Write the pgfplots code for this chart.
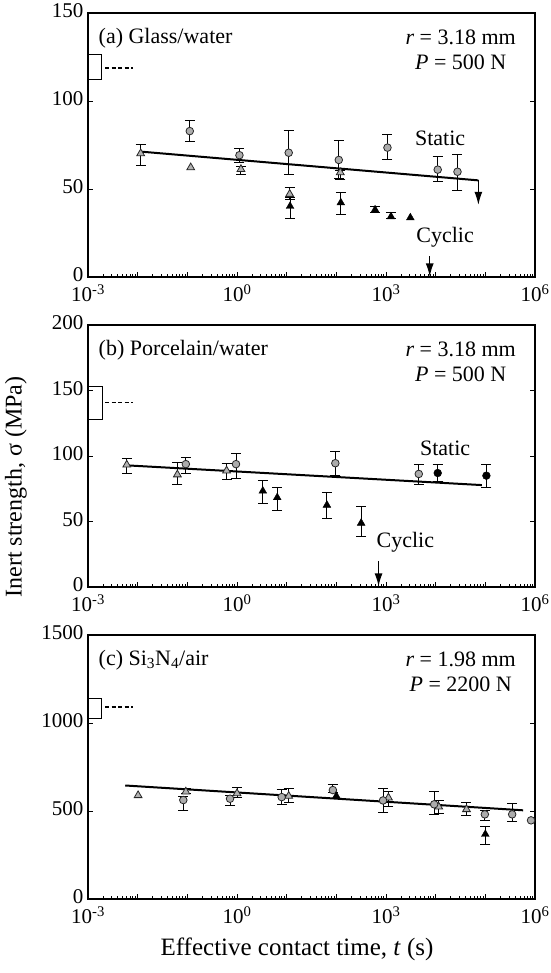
\documentclass[border=0pt]{standalone}
\usepackage{fontspec}
\setmainfont{Liberation Serif}
\usepackage{pgfplots}
\pgfplotsset{compat=1.18}
\usetikzlibrary{arrows.meta}

\pgfplotsset{
  myeb/.style={error bars/.cd, y dir=both, y explicit,
    error bar style={line width=0.9pt, black},
    error mark options={rotate=90, mark size=5pt, line width=0.9pt, black}},
  mygcirc/.style={only marks, mark=*, mark size=3.8pt, mark options={fill=gray!65, draw=black!85, line width=0.8pt}},
  mybcirc/.style={only marks, mark=*, mark size=3.9pt, mark options={fill=black, draw=black}},
  mygtri/.style={only marks, mark=triangle*, mark size=4.5pt, mark options={fill=gray!60, draw=black!85, line width=0.8pt}},
  mybtri/.style={only marks, mark=triangle*, mark size=4.5pt, mark options={fill=black, draw=black}},
  myfit/.style={line width=2pt, black, no marks},
  myarr/.style={line width=1.3pt, black, no marks, -{Latex[length=13pt, width=8pt]}},
  mybox/.style={line width=0.8pt, black, no marks},
  mydash/.style={line width=1.6pt, black, no marks, dash pattern=on 4pt off 2.5pt},
}
\tikzset{mylab/.style={font=\fontsize{22}{25}\selectfont}}

\begin{document}
\begin{tikzpicture}
\useasboundingbox (0,0) rectangle (550pt,-973pt);
\pgfplotsset{every axis/.append style={
    scale only axis, width=447pt, xmin=1e-3, xmax=1e6,
    xtick={1e-3,1e-2,1e-1,1,1e1,1e2,1e3,1e4,1e5,1e6},
    xticklabels={10\textsuperscript{-3},,,10\textsuperscript{0},,,10\textsuperscript{3},,,10\textsuperscript{6}},
    xtick pos=bottom, ytick pos=both, tick align=inside,
    major tick length=5pt,
    tick style={line width=0.9pt, black},
    axis line style={line width=1.3pt},
    tick label style={font=\fontsize{21}{21}\selectfont},
    xticklabel style={yshift=-4pt},
    yticklabel style={yshift=2pt, xshift=-1pt},
    /pgf/number format/assume math mode=true,
    /pgf/number format/1000 sep={},
    scaled y ticks=false,
    clip=false,
}}

% ---------------- (a) ----------------
\begin{axis}[xmode=log, at={(88pt,-13pt)}, anchor=north west, height=264pt,
  ymin=0, ymax=150, ytick={0,50,100,150}]
\addplot[mybox] coordinates {(1e-3,126.5)(0.0019,126.5)(0.0019,112.4)(1e-3,112.4)};
\addplot[mydash] coordinates {(0.0022,118.6)(0.0081,118.6)};
\addplot[myfit] coordinates {(0.012,71.2)(72400,54.9)};
\addplot[myarr] coordinates {(72400,54.9)(72400,41)};
\addplot[myarr] coordinates {(7590,11.8)(7590,0.3)};
\addplot[mygtri, myeb] table[x=x, y=y, y error plus=p, y error minus=m] {
x y p m
0.0115 70.2 5.3 7.1
1.2 61.2 1.6 2.7
11.5 47.1 3.9 3.1
120 59.4 1.4 4.1
};
\addplot[mygtri] coordinates {(0.117,62.2)};
\addplot[mybtri, myeb] table[x=x, y=y, y error plus=p, y error minus=m] {
x y p m
11.7 40.2 4.9 6.9
123 42.2 5.9 6.9
603 38.2 2.0 1.4
1260 34.3 2.2 1.0
};
\addplot[mybtri] coordinates {(3090,33.7)};
\addplot[mygcirc, myeb] table[x=x, y=y, y error plus=p, y error minus=m] {
x y p m
0.112 82.9 5.9 6.0
1.12 69.2 4.1 4.0
11.0 70.6 12.7 12.2
112 66.5 11.3 10.6
1070 73.5 7.5 6.8
11000 61.0 7.6 6.7
27500 59.8 9.6 10.4
};
\node[mylab, anchor=north west] at (rel axis cs:0.016,0.955) {(a) Glass/water};
\node[mylab, anchor=north east, align=center] at (rel axis cs:0.965,0.95) {\textit{r} = 3.18 mm\\\textit{P} = 500 N};
\node[mylab] at (axis cs:12300,78.8) {Static};
\node[mylab] at (axis cs:15500,22.5) {Cyclic};
\end{axis}

% ---------------- (b) ----------------
\begin{axis}[xmode=log, at={(88pt,-325pt)}, anchor=north west, height=262pt,
  ymin=0, ymax=200, ytick={0,50,100,150,200}]
\addplot[mybox] coordinates {(1e-3,152.8)(0.00195,152.8)(0.00195,128.3)(1e-3,128.3)};
\addplot[mydash] coordinates {(0.0022,140.8)(0.0081,140.8)};
\addplot[myfit] coordinates {(0.00646,92.8)(85100,77.8)};
\addplot[myarr] coordinates {(708,19.5)(708,0.5)};
\addplot[mygtri, myeb] table[x=x, y=y, y error plus=p, y error minus=m] {
x y p m
0.00603 93.3 4.9 6.3
0.063 85.8 9.5 7.5
0.617 88.8 5.7 6.8
};
\addplot[mybtri, myeb] table[x=x, y=y, y error plus=p, y error minus=m] {
x y p m
3.31 73.3 8.0 9.5
6.46 68.3 7.5 9.5
64.6 62.5 9.3 10.5
316 48.8 12.7 10.5
};
\addplot[mygcirc, myeb] table[x=x, y=y, y error plus=p, y error minus=m] {
x y p m
0.0933 93.8 5.0 6.8
0.955 93.8 8.2 11.0
95.5 94.5 8.8 9.2
4570 86.3 7.5 8.0
};
\addplot[mybcirc, myeb] table[x=x, y=y, y error plus=p, y error minus=m] {
x y p m
11000 87.0 6.8 6.2
105000 85.0 8.8 9.2
};
\node[mylab, anchor=north west] at (rel axis cs:0.016,0.955) {(b) Porcelain/water};
\node[mylab, anchor=north east, align=center] at (rel axis cs:0.965,0.95) {\textit{r} = 3.18 mm\\\textit{P} = 500 N};
\node[mylab] at (axis cs:15500,106) {Static};
\node[mylab] at (axis cs:2450,33.8) {Cyclic};
\end{axis}

% ---------------- (c) ----------------
\begin{axis}[xmode=log, at={(88pt,-635pt)}, anchor=north west, height=264pt,
  ymin=0, ymax=1500, ytick={0,500,1000,1500}]
\addplot[mybox] coordinates {(1e-3,1141.6)(0.0019,1141.6)(0.0019,1028)(1e-3,1028)};
\addplot[mydash] coordinates {(0.0022,1090.6)(0.0081,1090.6)};
\addplot[myfit] coordinates {(0.00562,645)(575000,504)};
\addplot[mygtri, myeb] table[x=x, y=y, y error plus=p, y error minus=m] {
x y p m
0.0933 609.4 17 10
1.0 600 32 25
11 585 41 34
1120 575.5 34 51
11500 524.5 36 38
41700 509.4 38 34
};
\addplot[mygtri] coordinates {(0.0102,588.7)};
\addplot[mygcirc, myeb] table[x=x, y=y, y error plus=p, y error minus=m] {
x y p m
0.083 562.3 20 57
0.724 569.8 19 38
7.94 579 43 42
85.1 619 32 15
871 560 66 66
9330 538 75 60
97700 481 25 32
347000 481 60 43
};
\addplot[mygcirc] coordinates {(832000,447)};
\addplot[mybtri] coordinates {(100,585)};
\addplot[mybtri, myeb] table[x=x, y=y, y error plus=p, y error minus=m] {
x y p m
100000 368 47 57
};
\node[mylab, anchor=north west] at (rel axis cs:0.016,0.955) {(c) Si\textsubscript{3}N\textsubscript{4}/air};
\node[mylab, anchor=north east, align=center] at (rel axis cs:0.965,0.95) {\textit{r} = 1.98 mm\\\textit{P} = 2200 N};
\end{axis}

\node[rotate=90, font=\fontsize{24}{26}\selectfont] at (16pt,-487pt) {Inert strength, σ (MPa)};
\node[font=\fontsize{25}{27}\selectfont] at (297pt,-949pt) {Effective contact time, \textit{t} (s)};
\end{tikzpicture}
\end{document}
